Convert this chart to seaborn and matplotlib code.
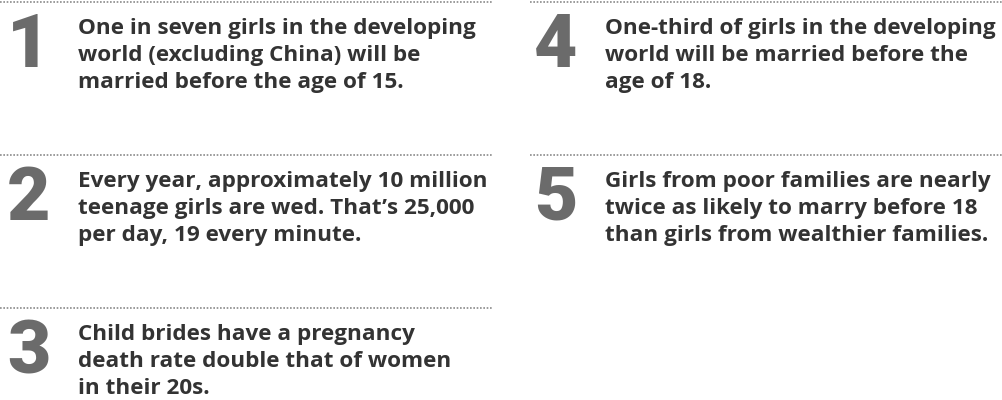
import matplotlib
matplotlib.use("Agg")
import matplotlib.pyplot as plt
import seaborn as sns

# facts, in reading order (left column 1-3, right column 4-5)
numbers = ["1", "2", "3", "4", "5"]
columns = [0, 0, 0, 1, 1]
rows = [0, 1, 2, 0, 1]
lines = [
    ["One in seven girls in the developing",
     "world (excluding China) will be",
     "married before the age of 15."],
    ["Every year, approximately 10 million",
     "teenage girls are wed. That\u2019s 25,000",
     "per day, 19 every minute."],
    ["Child brides have a pregnancy",
     "death rate double that of women",
     "in their 20s."],
    ["One-third of girls in the developing",
     "world will be married before the",
     "age of 18."],
    ["Girls from poor families are nearly",
     "twice as likely to marry before 18",
     "than girls from wealthier families."],
]

sns.set_theme(style="white")
plt.rcParams["font.family"] = ["Open Sans", "DejaVu Sans"]

W, H = 1003, 400
fig = plt.figure(figsize=(W / 100, H / 100), dpi=100)
ax = fig.add_axes([0, 0, 1, 1])
ax.set_xlim(0, W)
ax.set_ylim(H, 0)
ax.axis("off")

col_left = [0, 530]
col_right = [493, 1003]
num_x = [29, 556]
text_x = [78, 605]
row_h = 153
text_color = "#333333"
num_color = "#6b6b6b"

for num, c, r, txt in zip(numbers, columns, rows, lines):
    top = 2 + r * row_h
    ax.hlines(top, col_left[c], col_right[c], colors="#8a8a8a",
              linestyles=(0, (1, 1)), linewidth=1.2)
    ax.text(num_x[c], top + 65, num, ha="center", va="baseline",
            fontsize=54, fontweight="heavy", color=num_color,
            family=["Roboto", "DejaVu Sans"])
    for i, line in enumerate(txt):
        ax.text(text_x[c], top + 32 + i * 27, line, ha="left", va="baseline",
                fontsize=16.2, fontweight="bold", color=text_color)

fig.savefig("out.png", dpi=100)
